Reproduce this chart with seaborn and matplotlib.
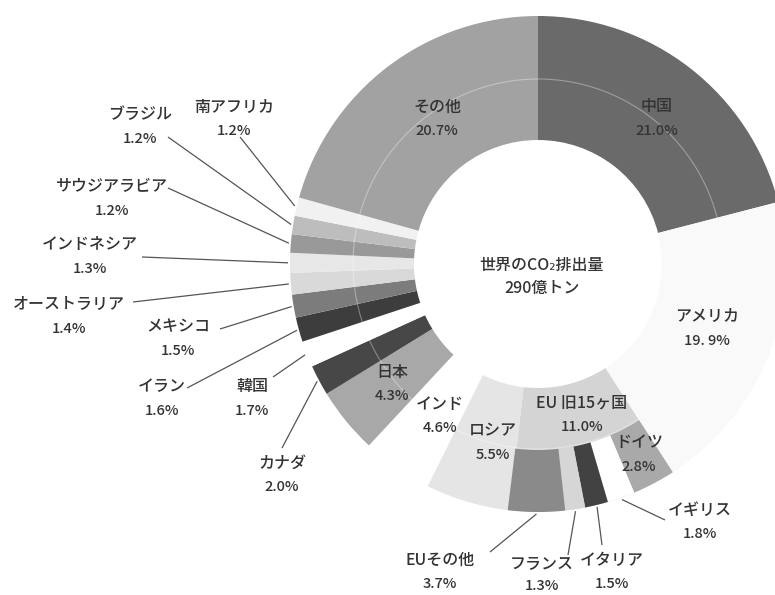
import numpy as np
import matplotlib
matplotlib.use("Agg")
import matplotlib.pyplot as plt
from matplotlib.patches import Circle
import seaborn as sns

# --- data: share of world CO2 emissions (%) -------------------------------
countries = ["中国", "アメリカ", "EU 旧15ヶ国", "ロシア", "インド", "日本", "カナダ",
             "韓国", "イラン", "メキシコ", "オーストラリア", "インドネシア",
             "サウジアラビア", "ブラジル", "南アフリカ", "その他"]
shares = [21.0, 19.9, 11.0, 5.5, 4.6, 4.3, 2.0, 1.7, 1.6, 1.5, 1.4, 1.3,
          1.2, 1.2, 1.2, 20.7]

# breakdown of the EU (former 15 members)
eu_members = ["ドイツ", "イギリス", "イタリア", "フランス", "EUその他"]
eu_shares = [2.8, 1.8, 1.5, 1.3, 3.7]

center_title = "世界のCO₂排出量"
center_total = "290億トン"

# --- styling -------------------------------------------------------------
country_colors = ["#6a6a6a", "#f9f9f9", "#d4d4d4", "#e5e5e5", "#ffffff",
                  "#a8a8a8", "#474747", "#ffffff", "#3d3d3d", "#7c7c7c",
                  "#d9d9d9", "#e7e7e7", "#999999", "#bdbdbd", "#f1f1f1",
                  "#a2a2a2"]
eu_colors = ["#a9a9a9", "#ffffff", "#424242", "#d6d6d6", "#8a8a8a"]
TEXT = "#333333"
LINE = "#555555"

W, H = 775, 595
CX, CY = 538, H - 264          # ring centre (y axis points up)
R_IN, R_SPLIT, R_OUT = 124, 186, 248
R_REF = 185

sns.set_theme(style="white")
plt.rcParams["font.family"] = ["Noto Sans CJK JP", "DejaVu Sans"]

fig = plt.figure(figsize=(W / 100, H / 100), dpi=100)
ax = fig.add_axes([0, 0, 1, 1])

total = sum(shares)

# main ring
ax.pie(shares, radius=R_OUT, center=(CX, CY), startangle=90, counterclock=False,
       colors=country_colors, wedgeprops=dict(width=R_OUT - R_IN, linewidth=0))

# outer sub-ring with the EU members, drawn over the EU wedge
i_eu = countries.index("EU 旧15ヶ国")
before = sum(shares[:i_eu])
after = total - before - sum(eu_shares)
ax.pie([before] + eu_shares + [after], radius=R_OUT, center=(CX, CY),
       startangle=90, counterclock=False,
       colors=["none"] + eu_colors + ["none"],
       wedgeprops=dict(width=R_OUT - R_SPLIT, linewidth=0))

# faint reference circle
ax.add_patch(Circle((CX, CY), R_REF, fill=False, ec="white", alpha=0.35, lw=0.8))

# angles (degrees clockwise from 12 o'clock)
bounds = np.concatenate([[0], np.cumsum(shares)]) / total * 360
mid = {c: (bounds[i] + bounds[i + 1]) / 2 for i, c in enumerate(countries)}
eu_bounds = bounds[i_eu] + np.concatenate([[0], np.cumsum(eu_shares)]) / total * 360
mid.update({c: (eu_bounds[i] + eu_bounds[i + 1]) / 2 for i, c in enumerate(eu_members)})

value = dict(zip(countries, shares))
value.update(zip(eu_members, eu_shares))
pct_text = {k: f"{v:.1f}%" for k, v in value.items()}
pct_text["アメリカ"] = pct_text["アメリカ"].replace(".", ". ")


def polar(theta, r):
    t = np.deg2rad(theta)
    return CX + r * np.sin(t), CY + r * np.cos(t)


# label anchors in pixel coordinates (x, y of the name line)
label_pos = {
    "その他": (437, 107), "中国": (657, 107), "アメリカ": (707, 317),
    "EU 旧15ヶ国": (582, 403), "ロシア": (493, 431), "インド": (440, 404),
    "ドイツ": (639, 443), "日本": (392, 372),
    "南アフリカ": (234, 107), "ブラジル": (140, 115), "サウジアラビア": (112, 187),
    "インドネシア": (90, 245), "オーストラリア": (69, 305), "メキシコ": (178, 327),
    "イラン": (162, 387), "韓国": (252, 387), "カナダ": (282, 463),
    "EUその他": (440, 560), "フランス": (542, 565), "イタリア": (612, 560),
    "イギリス": (700, 510),
}
pct_gap = {"フランス": 21}
# leader-line start points next to the outside labels
leader_from = {
    "南アフリカ": (240, 137), "ブラジル": (168, 137), "サウジアラビア": (168, 188),
    "インドネシア": (142, 257), "オーストラリア": (133, 302), "メキシコ": (220, 329),
    "イラン": (187, 388), "韓国": (273, 377), "カナダ": (282, 448),
    "EUその他": (490, 552), "フランス": (568, 555), "イタリア": (602, 545),
    "イギリス": (665, 520),
}

for name, (x, y) in label_pos.items():
    ax.text(x, H - y, name, ha="center", va="center", fontsize=11.5,
            color=TEXT, fontweight="medium")
    ax.text(x, H - y - pct_gap.get(name, 24), pct_text[name], ha="center",
            va="center", fontsize=10.5, color=TEXT, fontweight="medium")

for name, (x, y) in leader_from.items():
    ex, ey = polar(mid[name], R_OUT + 2)
    ax.plot([x, ex], [H - y, ey], color=LINE, lw=0.9, solid_capstyle="butt")

ax.text(CX + 4, H - 265, center_title, ha="center", va="center", fontsize=11.5,
        color=TEXT, fontweight="medium")
ax.text(CX + 4, H - 288, center_total, ha="center", va="center", fontsize=11.5,
        color=TEXT, fontweight="medium")

ax.set_xlim(0, W)
ax.set_ylim(0, H)
ax.set_aspect("equal")
ax.axis("off")
fig.savefig("out.png", dpi=100)
